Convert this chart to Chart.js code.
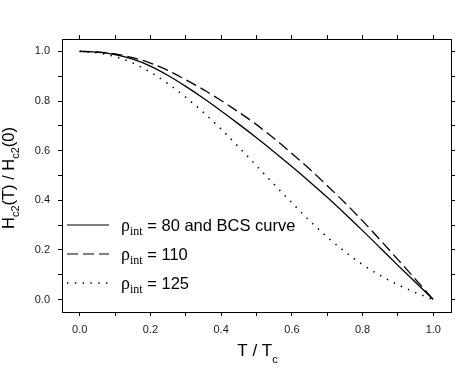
<!DOCTYPE html>
<html>
<head>
<meta charset="utf-8">
<script src="https://cdn.jsdelivr.net/npm/chart.js@4/dist/chart.umd.min.js"></script>
<style>
    html, body { margin: 0; padding: 0; background: #fff; }
    #wrap { width: 471px; height: 368px; position: relative; }
</style>
</head>
<body>
<div id="wrap"><canvas id="hc2Chart"></canvas></div>
<script>
/* Hc2(T)/Hc2(0) vs T/Tc, three interaction strengths */

const tValues = [0, 0.05, 0.1, 0.15, 0.2, 0.25, 0.3, 0.35, 0.4, 0.45, 0.5,
                 0.55, 0.6, 0.65, 0.7, 0.75, 0.8, 0.85, 0.9, 0.95, 1.0];

// rho_int = 80 (and BCS curve)
const hRho80 = [1.0, 0.997, 0.987, 0.969, 0.941, 0.903, 0.859, 0.811, 0.76, 0.707, 0.652,
                0.595, 0.536, 0.475, 0.412, 0.346, 0.278, 0.208, 0.138, 0.069, 0.0];
// rho_int = 110
const hRho110 = [1.0, 0.998, 0.99, 0.975, 0.953, 0.923, 0.886, 0.846, 0.802, 0.755, 0.705,
                 0.649, 0.589, 0.526, 0.459, 0.39, 0.317, 0.24, 0.161, 0.081, 0.0];
// rho_int = 125
const hRho125 = [1.0, 0.994, 0.979, 0.953, 0.916, 0.87, 0.815, 0.754, 0.687, 0.614, 0.539,
                 0.464, 0.39, 0.318, 0.252, 0.193, 0.141, 0.097, 0.06, 0.028, 0.0];

const xTicks = [0, 0.1, 0.2, 0.3, 0.4, 0.5, 0.6, 0.7, 0.8, 0.9, 1.0];
const yTicks = [0, 0.1, 0.2, 0.3, 0.4, 0.5, 0.6, 0.7, 0.8, 0.9, 1.0];
const labelledTicks = [0, 0.2, 0.4, 0.6, 0.8, 1.0];

const legendValues = ["= 80 and BCS curve", "= 110", "= 125"];
const lineDashes = [[], [11, 5], [1.4, 6.4]];

const SANS = "'Liberation Sans', Arial, sans-serif";
const SERIF = "'Liberation Serif', 'Times New Roman', serif";

function toPoints(ys) {
    return tValues.map(function (t, i) { return { x: t, y: ys[i] }; });
}

function tickLabel(v) {
    const isMajor = labelledTicks.some(function (m) { return Math.abs(m - v) < 1e-6; });
    return isMajor ? v.toFixed(1) : "";
}

function fixedTicks(list) {
    return function (scale) {
        scale.ticks = list.map(function (v) { return { value: v }; });
    };
}

function axisCommon(list, showLabels, size, isX) {
    return {
        type: "linear",
        min: -0.05,
        max: 1.05,
        afterBuildTicks: fixedTicks(list),
        afterFit: function (scale) {
            if (isX) { scale.height = size; } else { scale.width = size; }
        },
        grid: {
            drawOnChartArea: false,
            drawTicks: true,
            tickLength: 4,
            color: "#000",
            lineWidth: 1
        },
        border: { display: true, color: "#000", width: 1 },
        ticks: {
            display: showLabels,
            autoSkip: false,
            maxRotation: 0,
            padding: isX ? 7 : 8,
            color: "#1a1a1a",
            font: { family: SANS, size: 11 },
            callback: tickLabel
        }
    };
}

/* titles with subscripts + legend inside the plot */
const decorations = {
    id: "decorations",
    afterDraw: function (chart) {
        const ctx = chart.ctx;
        const area = chart.chartArea;
        ctx.save();
        ctx.fillStyle = "#000";
        ctx.textBaseline = "alphabetic";
        ctx.textAlign = "left";

        function runs(parts) {
            let w = 0;
            parts.forEach(function (p) { ctx.font = p[1]; w += ctx.measureText(p[0]).width; });
            return w;
        }
        function drawRuns(parts, x0, y0) {
            let x = x0;
            parts.forEach(function (p) {
                ctx.font = p[1];
                ctx.fillText(p[0], x, y0 + p[2]);
                x += ctx.measureText(p[0]).width;
            });
        }

        // x title: T / Tc
        const big = "17px " + SANS;
        const sub = "11px " + SANS;
        const xParts = [["T / T", big, 0], ["c", sub, 7]];
        const xw = runs(xParts);
        drawRuns(xParts, (area.left + area.right) / 2 - xw / 2 + 1, 356);

        // y title: Hc2(T) / Hc2(0)
        const ybig = "16.5px " + SANS;
        const ysub = "11px " + SANS;
        const yParts = [["H", ybig, 0], ["c2", ysub, 5], ["(T) / H", ybig, 0], ["c2", ysub, 5], ["(0)", ybig, 0]];
        const yw = runs(yParts);
        ctx.save();
        ctx.translate(14, 178);
        ctx.rotate(-Math.PI / 2);
        drawRuns(yParts, -yw / 2, 0);
        ctx.restore();

        // legend
        const rowsY = [225, 254, 283];
        legendValues.forEach(function (txt, i) {
            const y = rowsY[i];
            ctx.save();
            ctx.strokeStyle = "#000";
            ctx.lineWidth = i === 2 ? 1.5 : 1.2;
            ctx.setLineDash(lineDashes[i]);
            ctx.beginPath();
            ctx.moveTo(67, y);
            ctx.lineTo(109, y);
            ctx.stroke();
            ctx.restore();
            drawRuns([["\u03c1", "18px " + SERIF, 0], ["int", "12px " + SERIF, 4], [" " + txt, "16.5px " + SANS, 0]], 121, y + 6);
        });
        ctx.restore();
    }
};

new Chart(document.getElementById("hc2Chart").getContext("2d"), {
    type: "line",
    data: {
        datasets: [
            { label: "rho80", data: toPoints(hRho80), borderDash: lineDashes[0], borderWidth: 1.3 },
            { label: "rho110", data: toPoints(hRho110), borderDash: lineDashes[1], borderWidth: 1.3 },
            { label: "rho125", data: toPoints(hRho125), borderDash: lineDashes[2], borderWidth: 1.6 }
        ].map(function (d) {
            d.borderColor = "#000";
            d.backgroundColor = "#000";
            d.pointRadius = 0;
            d.fill = false;
            d.cubicInterpolationMode = "monotone";
            d.xAxisID = "x";
            d.yAxisID = "y";
            return d;
        })
    },
    options: {
        responsive: true,
        maintainAspectRatio: false,
        animation: false,
        events: [],
        layout: { padding: 0 },
        plugins: { legend: { display: false }, tooltip: { enabled: false } },
        scales: {
            x: Object.assign(axisCommon(xTicks, true, 56, true), { position: "bottom" }),
            x2: Object.assign(axisCommon(xTicks, false, 39, true), { position: "top" }),
            y: Object.assign(axisCommon(yTicks, true, 62, false), { position: "left" }),
            y2: Object.assign(axisCommon(yTicks, false, 20, false), { position: "right" })
        }
    },
    plugins: [decorations]
});
</script>
</body>
</html>
